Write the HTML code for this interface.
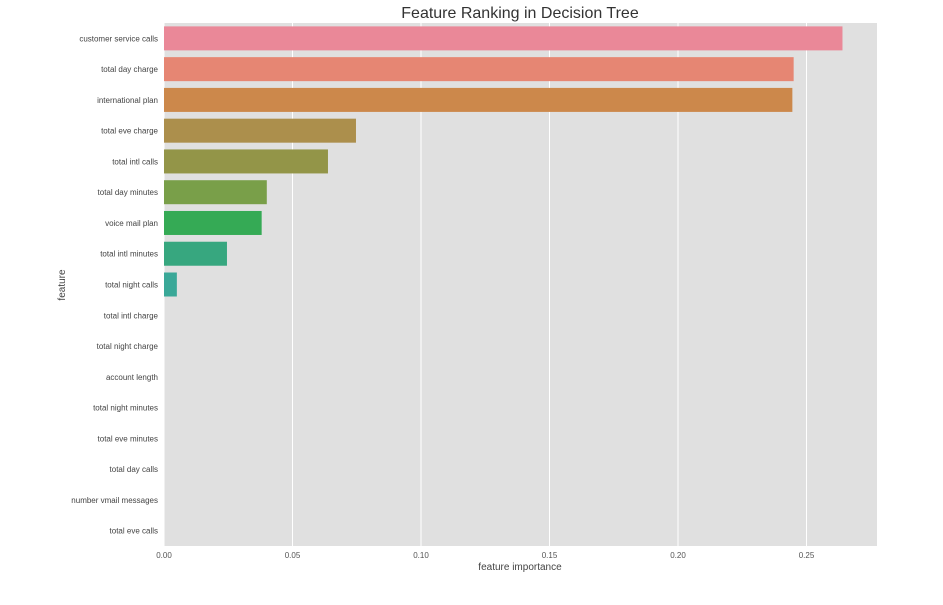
<!DOCTYPE html>
<html><head><meta charset="utf-8"><style>
body{margin:0;background:#fff;font-family:"Liberation Sans",sans-serif;}
svg text{font-family:"Liberation Sans",sans-serif;}
</style></head><body>
<svg id="chart" width="943" height="600" xmlns="http://www.w3.org/2000/svg">
<rect x="0" y="0" width="943" height="600" fill="#fff"/>
<rect x="164" y="23" width="713" height="523" fill="#e0e0e0"/>
<g id="grid"></g><g id="bars"></g><g id="yticks"></g><g id="xticks"></g>
<text x="520" y="18" text-anchor="middle" font-size="16" fill="#333">Feature Ranking in Decision Tree</text>
<text x="520" y="570" text-anchor="middle" font-size="10" fill="#444">feature importance</text>
<text x="0" y="0" transform="translate(65,285) rotate(-90)" text-anchor="middle" font-size="10" fill="#444">feature</text>
</svg>
<script>
const features=["customer service calls","total day charge","international plan","total eve charge","total intl calls","total day minutes","voice mail plan","total intl minutes","total night calls","total intl charge","total night charge","account length","total night minutes","total eve minutes","total day calls","number vmail messages","total eve calls"];
const importance=[0.264,0.245,0.2445,0.0747,0.0638,0.040,0.038,0.0245,0.005,0,0,0,0,0,0,0,0];
const xTicks=[0,0.05,0.10,0.15,0.20,0.25];
const xTickLabels=["0.00","0.05","0.10","0.15","0.20","0.25"];
const colors=["#ea8898","#e68673","#cc884b","#ac8f4c","#939548","#799f49","#35aa55","#37a77f","#3aa898","#3ba5aa","#3da2bc","#4a9ed0","#7a95e0","#a98ae6","#cc80e0","#e27ac8","#e982b0"];
const NS="http://www.w3.org/2000/svg";
const x0=164,pxPerUnit=2570,plotTop=23,rowH=523/features.length;
const xs=v=>x0+v*pxPerUnit;
const yc=i=>plotTop+rowH*(i+0.5);
function mk(t,a,p){const e=document.createElementNS(NS,t);for(const k in a)e.setAttribute(k,a[k]);p.appendChild(e);return e;}
const g=document.getElementById('grid'),b=document.getElementById('bars'),yt=document.getElementById('yticks'),xt=document.getElementById('xticks');
xTicks.forEach((v,i)=>{
 const l=mk('line',{x1:xs(v),x2:xs(v),y1:plotTop,y2:546,stroke:'#fff','stroke-width':1},g);
 
 
 const t=mk('text',{x:xs(v),y:558,'text-anchor':'middle','font-size':8,fill:'#555'},xt);
 t.textContent=xTickLabels[i];
 
 
});
features.forEach((f,i)=>{
 const h=24;
 const r=mk('rect',{x:x0,y:yc(i)-h/2,width:Math.max(0,xs(importance[i])-x0),height:h,fill:colors[i]},b);
 
 
 const t=mk('text',{x:158,y:yc(i)+3,'text-anchor':'end','font-size':8,fill:'#444'},yt);
 t.textContent=f;
 
 
});
</script>
</body></html>
